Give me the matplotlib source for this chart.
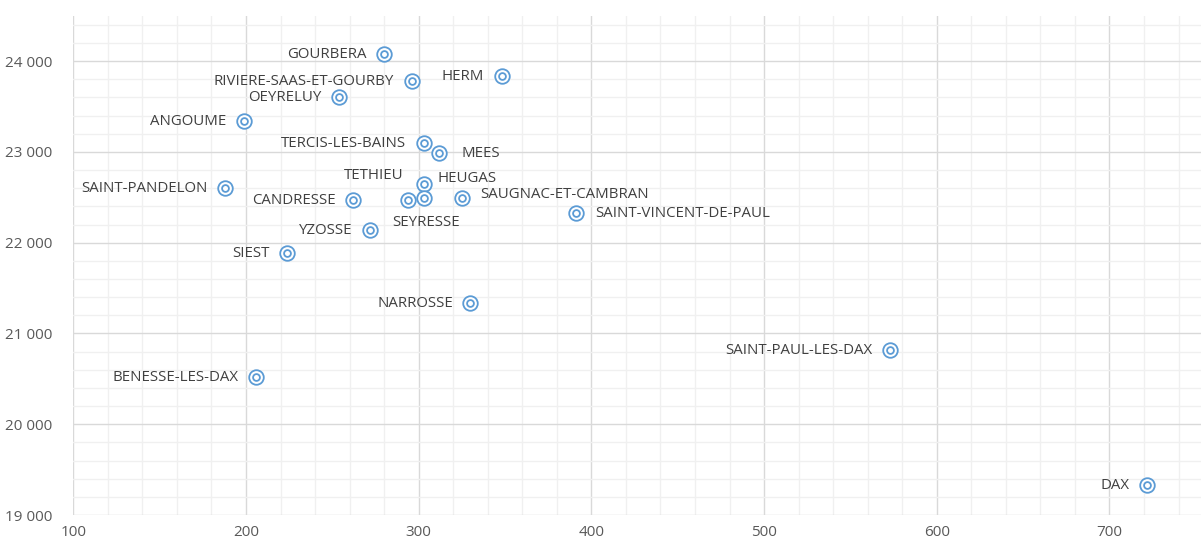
import matplotlib.pyplot as plt
from matplotlib.ticker import MultipleLocator, FuncFormatter

plt.rcParams['font.family'] = ['Open Sans', 'DejaVu Sans']

# data
communes = ['GOURBERA', 'HERM', 'RIVIERE-SAAS-ET-GOURBY', 'OEYRELUY', 'ANGOUME',
            'TERCIS-LES-BAINS', 'MEES', 'TETHIEU', 'HEUGAS', 'SAINT-PANDELON',
            'CANDRESSE', 'SEYRESSE', 'SAUGNAC-ET-CAMBRAN', 'SAINT-VINCENT-DE-PAUL',
            'YZOSSE', 'SIEST', 'NARROSSE', 'SAINT-PAUL-LES-DAX', 'BENESSE-LES-DAX', 'DAX']
x_vals = [280, 348, 296, 254, 199,
          303, 312, 303, 303, 188,
          262, 294, 325, 391,
          272, 224, 330, 573, 206, 722]
y_vals = [24074, 23835, 23780, 23600, 23337,
          23094, 22990, 22643, 22497, 22607,
          22467, 22467, 22497, 22331,
          22140, 21891, 21333, 20816, 20516, 19333]

# label placement (offset in px, alignment); default is left of the marker
label_pos = {
    'MEES': (22, 0, 'left'),
    'TETHIEU': (-20, 9, 'right'),
    'HEUGAS': (14, 20, 'left'),
    'SAUGNAC-ET-CAMBRAN': (18, 4, 'left'),
    'SAINT-VINCENT-DE-PAUL': (19, 0, 'left'),
    'SEYRESSE': (18, -22, 'center'),
}

blue = '#5b9bd5'
fig = plt.figure(figsize=(12.01, 5.45), dpi=100)
ax = fig.add_axes([0.061, 0.055, 0.939, 0.916])

ax.scatter(x_vals, y_vals, s=110, facecolor='white', edgecolor=blue, linewidth=1.3, zorder=3)
ax.scatter(x_vals, y_vals, s=24, facecolor='white', edgecolor=blue, linewidth=1.3, zorder=4)

px = 0.72  # points per pixel at 100 dpi
for name, x, y in zip(communes, x_vals, y_vals):
    dx, dy, ha = label_pos.get(name, (-17.5, 0, 'right'))
    ax.annotate(name, (x, y), xytext=(dx * px, (dy - 4) * px), textcoords='offset points',
                ha=ha, va='baseline', fontsize=10.8, color='#404040', zorder=5)

ax.set_xlim(100, 753)
ax.set_ylim(19000, 24500)
ax.xaxis.set_major_locator(MultipleLocator(100))
ax.xaxis.set_minor_locator(MultipleLocator(20))
ax.yaxis.set_major_locator(MultipleLocator(1000))
ax.yaxis.set_minor_locator(MultipleLocator(200))
ax.yaxis.set_major_formatter(FuncFormatter(lambda v, p: f'{int(v):,}'.replace(',', ' ')))

ax.grid(True, which='major', color='#d9d9d9', linewidth=1.0)
ax.grid(True, which='minor', color='#f0f0f0', linewidth=1.0)
ax.set_axisbelow(True)
for s in ax.spines.values():
    s.set_visible(False)
ax.tick_params(which='both', length=0, colors='#595959', labelsize=11)
ax.tick_params(axis='y', pad=15)
ax.tick_params(axis='x', pad=7)

fig.savefig('out.png', dpi=100)
